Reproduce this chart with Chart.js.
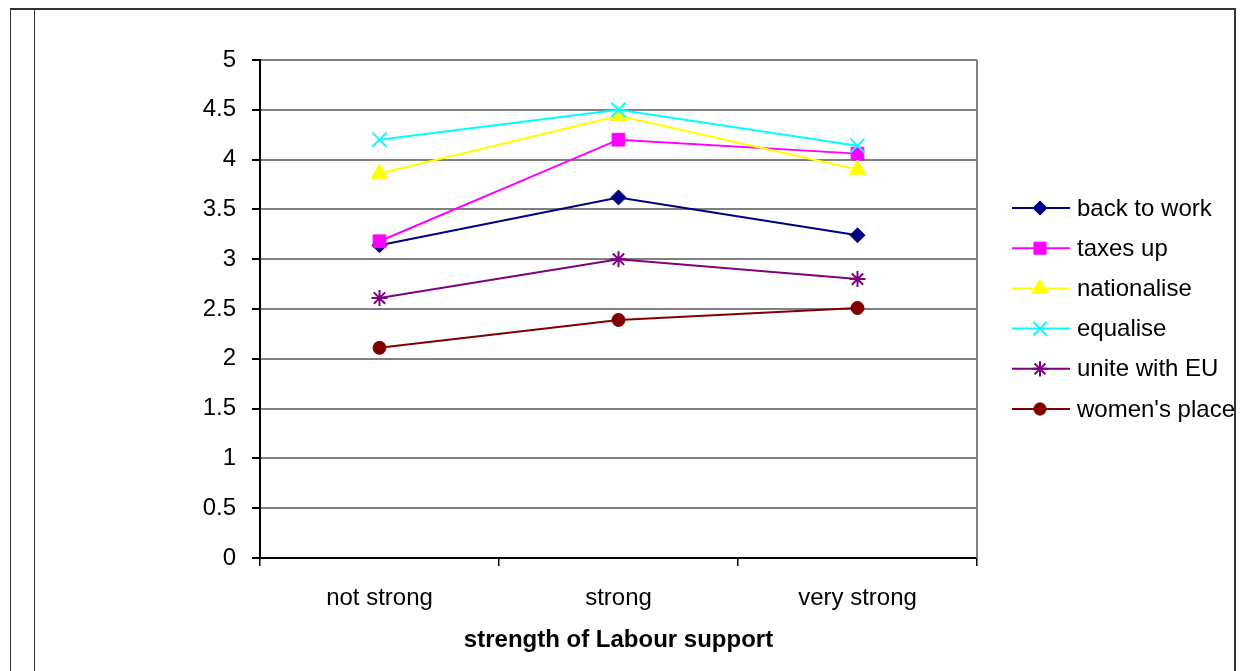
<!DOCTYPE html>
<html>
<head>
<meta charset="utf-8">
<script src="https://cdn.jsdelivr.net/npm/chart.js@4/dist/chart.umd.min.js"></script>
<style>
  html, body { margin: 0; padding: 0; background: #fff; }
  #wrap { position: relative; width: 1248px; height: 671px; overflow: hidden; }
  #c { position: absolute; left: 0; top: 0; }
  .frame { position: absolute; background: #333; }
</style>
</head>
<body>
<div id="wrap">
  <canvas id="c" width="1248" height="671"></canvas>
  <div class="frame" style="left:10px; top:8px; width:1226px; height:2px;"></div>
  <div class="frame" style="left:10px; top:8px; width:1px; height:663px;"></div>
  <div class="frame" style="left:34px; top:8px; width:1px; height:663px;"></div>
  <div class="frame" style="left:1234px; top:8px; width:2px; height:663px;"></div>
</div>
<script>
// Mean agreement score by strength of Labour support
const categories = ['not strong', 'strong', 'very strong'];
const seriesNames = ['back to work', 'taxes up', 'nationalise', 'equalise', 'unite with EU', "women's place"];
const backToWork   = [3.14, 3.62, 3.24];
const taxesUp      = [3.18, 4.20, 4.06];
const nationalise  = [3.86, 4.44, 3.90];
const equalise     = [4.20, 4.50, 4.14];
const uniteWithEU  = [2.61, 3.00, 2.80];
const womensPlace  = [2.11, 2.39, 2.51];
const yTicks = [0, 0.5, 1, 1.5, 2, 2.5, 3, 3.5, 4, 4.5, 5];

const seriesValues = [backToWork, taxesUp, nationalise, equalise, uniteWithEU, womensPlace];
const colors  = ['#000080', '#FF00FF', '#FFFF00', '#00FFFF', '#800080', '#800000'];
const shapes  = ['rectRot', 'rect', 'triangle', 'crossRot', 'star', 'circle'];
const radii   = [7.5, 9, 9.5, 10, 8, 6.5];

const FONT = "'Liberation Sans', Arial, sans-serif";

const datasets = seriesNames.map((name, i) => ({
  label: name,
  data: seriesValues[i],
  borderColor: colors[i],
  backgroundColor: colors[i],
  borderWidth: 2,
  pointStyle: shapes[i],
  pointRadius: radii[i],
  pointHoverRadius: radii[i],
  pointBorderWidth: (shapes[i] === 'crossRot' || shapes[i] === 'star') ? 2 : 1,
  tension: 0,
  order: seriesNames.length - i
}));

// right-hand edge of the plot frame
const plotFrame = {
  id: 'plotFrame',
  beforeDatasetsDraw(chart) {
    const a = chart.chartArea, ctx = chart.ctx;
    ctx.save();
    ctx.strokeStyle = '#808080';
    ctx.lineWidth = 2;
    ctx.beginPath();
    ctx.moveTo(a.right, a.top);
    ctx.lineTo(a.right, a.bottom);
    ctx.stroke();
    ctx.restore();
  }
};

// legend with a line segment and marker per series
const lineLegend = {
  id: 'lineLegend',
  afterDraw(chart) {
    const ctx = chart.ctx;
    const x0 = 1012, x1 = 1070, xm = 1040, xt = 1077;
    const y0 = 208, dy = 40.2;
    ctx.save();
    chart.data.datasets.forEach((ds, i) => {
      const y = y0 + i * dy;
      ctx.strokeStyle = ds.borderColor;
      ctx.lineWidth = 2;
      ctx.beginPath();
      ctx.moveTo(x0, y);
      ctx.lineTo(x1, y);
      ctx.stroke();
      ctx.fillStyle = ds.backgroundColor;
      ctx.strokeStyle = ds.borderColor;
      ctx.lineWidth = ds.pointBorderWidth;
      Chart.helpers.drawPoint(ctx, {
        pointStyle: ds.pointStyle,
        radius: ds.pointRadius * 0.95,
        rotation: 0,
        borderWidth: ds.pointBorderWidth
      }, xm, y);
      ctx.fillStyle = '#000';
      ctx.font = '24px ' + FONT;
      ctx.textBaseline = 'middle';
      ctx.textAlign = 'left';
      ctx.fillText(ds.label, xt, y + 1);
    });
    ctx.restore();
  }
};

new Chart(document.getElementById('c'), {
  type: 'line',
  data: { labels: categories, datasets },
  options: {
    responsive: false,
    animation: false,
    events: [],
    layout: { padding: { left: 0, right: 271, top: 60, bottom: 0 } },
    plugins: {
      legend: { display: false },
      tooltip: { enabled: false }
    },
    scales: {
      x: {
        offset: true,
        grid: {
          offset: true,
          drawOnChartArea: false,
          color: '#000',
          tickColor: '#000',
          tickLength: 8,
          lineWidth: 1.5
        },
        border: { color: '#000', width: 2 },
        ticks: {
          color: '#000',
          font: { family: FONT, size: 24 },
          padding: 18,
          maxRotation: 0
        },
        title: {
          display: true,
          text: 'strength of Labour support',
          color: '#000',
          font: { family: FONT, size: 24, weight: 'bold' },
          padding: { top: 0, bottom: 16 }
        },
        afterFit(scale) { scale.height = 113; }
      },
      y: {
        min: 0,
        max: 5,
        afterBuildTicks(scale) { scale.ticks = yTicks.map(v => ({ value: v })); },
        grid: {
          color: '#808080',
          tickColor: '#000',
          tickLength: 8,
          lineWidth: 2
        },
        border: { color: '#000', width: 2 },
        ticks: {
          color: '#000',
          font: { family: FONT, size: 24 },
          padding: 16,
          callback: v => String(v)
        },
        afterFit(scale) { scale.width = 260; }
      }
    }
  },
  plugins: [plotFrame, lineLegend]
});
</script>
</body>
</html>
